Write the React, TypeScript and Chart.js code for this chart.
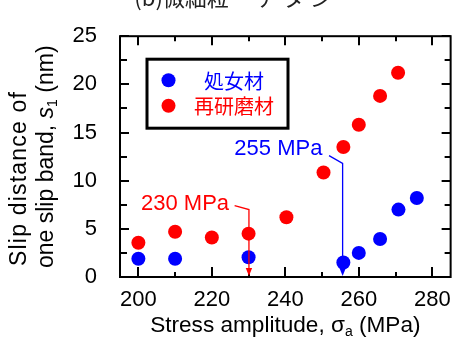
import { useEffect, useRef } from "react";
import { Chart, registerables } from "chart.js";

Chart.register(...registerables);

// ---- data ----
const seriesLabels = ["処女材", "再研磨材"];
const virginX = [200, 210, 230, 255.8, 260, 265.8, 270.8, 275.8];
const virginY = [1.9, 1.9, 2.05, 1.5, 2.5, 3.95, 7.0, 8.2];
const repolishX = [200, 210, 220, 230, 240.3, 250.4, 255.8, 260, 265.8, 270.7];
const repolishY = [3.55, 4.7, 4.1, 4.5, 6.2, 10.85, 13.5, 15.8, 18.8, 21.2];
const seriesColors = ["#0000ff", "#ff0000"];

const xTicks = [200, 220, 240, 260, 280];
const xMinorTicks = [210, 230, 250, 270];
const yTicks = [0, 5, 10, 15, 20, 25];
const yMinorTicks = [2.5, 7.5, 12.5, 17.5, 22.5];
const xRange = [195, 285];
const yRange = [0, 25];

const topTitle = "(b)微細粒ー チ タ ン";
const xTitleParts = ["Stress amplitude, ", "σ", "a", " (MPa)"];
const yTitleLine1 = "Slip distance of";
const yTitleLine2 = ["one slip band, ", "s", "1", " (nm)"];

const annotations = [
  { label: "230 MPa", color: "#ff0000", arrowX: 230.1, textX: 224.7, textY: 7.6, startX: 226.2, startY: 7.4, elbowY: 7.0 },
  { label: "255 MPa", color: "#0000ff", arrowX: 255.6, textX: 250.1, textY: 13.3, startX: 251.9, startY: 12.6, elbowY: 11.8 },
];

const FONT = "'Liberation Sans', Arial, Helvetica, sans-serif";
const CJK = "'Noto Sans CJK JP', 'Noto Sans CJK SC', sans-serif";

const decorPlugin = {
  id: "decor",
  afterDraw(chart: any) {
    const { ctx, chartArea } = chart;
    const { left, right, top, bottom } = chartArea;
    const xs = chart.scales.x;
    const ys = chart.scales.y;
    ctx.save();

    // frame
    ctx.strokeStyle = "#000";
    ctx.lineWidth = 2;
    ctx.strokeRect(left, top, right - left, bottom - top);

    // ticks (inward on all sides)
    ctx.lineWidth = 2;
    const tick = (x1: number, y1: number, x2: number, y2: number) => {
      ctx.beginPath();
      ctx.moveTo(x1, y1);
      ctx.lineTo(x2, y2);
      ctx.stroke();
    };
    xTicks.forEach((v) => {
      const p = Math.round(xs.getPixelForValue(v));
      tick(p, bottom, p, bottom - 10);
      tick(p, top, p, top + 9);
    });
    xMinorTicks.forEach((v) => {
      const p = Math.round(xs.getPixelForValue(v));
      tick(p, bottom, p, bottom - 5);
      tick(p, top, p, top + 5);
    });
    yTicks.forEach((v) => {
      const p = Math.round(ys.getPixelForValue(v));
      tick(left, p, left + 9, p);
      tick(right, p, right - 9, p);
    });
    yMinorTicks.forEach((v) => {
      const p = Math.round(ys.getPixelForValue(v));
      tick(left, p, left + 7, p);
      tick(right, p, right - 6, p);
    });

    // annotations with arrows
    annotations.forEach((a) => {
      ctx.fillStyle = a.color;
      ctx.strokeStyle = a.color;
      ctx.font = `22px ${FONT}`;
      ctx.textAlign = "right";
      ctx.textBaseline = "middle";
      ctx.fillText(a.label, xs.getPixelForValue(a.textX), ys.getPixelForValue(a.textY));
      const ax = xs.getPixelForValue(a.arrowX);
      const ey = ys.getPixelForValue(a.elbowY);
      ctx.lineWidth = 1.3;
      ctx.beginPath();
      ctx.moveTo(xs.getPixelForValue(a.startX), ys.getPixelForValue(a.startY));
      ctx.lineTo(ax, ey);
      ctx.lineTo(ax, bottom - 6);
      ctx.stroke();
      ctx.beginPath();
      ctx.moveTo(ax, bottom - 1);
      ctx.lineTo(ax - 3.2, bottom - 9);
      ctx.lineTo(ax + 3.2, bottom - 9);
      ctx.closePath();
      ctx.fill();
    });

    // legend box
    const bx = left + 27;
    const by = top + 23;
    const bw = 141;
    const bh = 69;
    ctx.fillStyle = "#fff";
    ctx.fillRect(bx, by, bw, bh);
    ctx.strokeStyle = "#000";
    ctx.lineWidth = 3;
    ctx.strokeRect(bx, by, bw, bh);
    seriesLabels.forEach((lab, i) => {
      const cy = by + 21 + i * 25.6;
      ctx.fillStyle = seriesColors[i];
      ctx.beginPath();
      ctx.arc(bx + 21.5, cy, 7, 0, Math.PI * 2);
      ctx.fill();
      ctx.font = `20px ${CJK}`;
      ctx.textAlign = "center";
      ctx.textBaseline = "middle";
      ctx.fillText(lab, bx + 87, cy + 1);
    });

    // x title with subscript
    ctx.fillStyle = "#000";
    ctx.textAlign = "left";
    ctx.textBaseline = "alphabetic";
    const mainF = `22.6px ${FONT}`;
    const subF = `14px ${FONT}`;
    ctx.font = mainF;
    const w0 = ctx.measureText(xTitleParts[0]).width;
    const w1 = ctx.measureText(xTitleParts[1]).width;
    const w3 = ctx.measureText(xTitleParts[3]).width;
    ctx.font = subF;
    const w2 = ctx.measureText(xTitleParts[2]).width;
    const total = w0 + w1 + w2 + w3;
    let cx = (left + right) / 2 - total / 2;
    const base = 332;
    ctx.font = mainF;
    ctx.fillText(xTitleParts[0], cx, base); cx += w0;
    ctx.fillText(xTitleParts[1], cx, base); cx += w1;
    ctx.font = subF;
    ctx.fillText(xTitleParts[2], cx, base + 4); cx += w2;
    ctx.font = mainF;
    ctx.fillText(xTitleParts[3], cx, base);

    // y title (rotated, two lines, start-aligned)
    const yStart = 266;
    ctx.save();
    ctx.translate(20, yStart);
    ctx.rotate(-Math.PI / 2);
    ctx.font = `23px ${FONT}`;
    try { (ctx as any).letterSpacing = "1.2px"; } catch (e) {}
    ctx.textBaseline = "middle";
    ctx.textAlign = "left";
    ctx.fillText(yTitleLine1, 0, 0);
    try { (ctx as any).letterSpacing = "0px"; } catch (e) {}
    ctx.restore();

    ctx.save();
    ctx.translate(47, yStart + 2);
    ctx.rotate(-Math.PI / 2);
    ctx.textBaseline = "middle";
    ctx.textAlign = "left";
    let lx = 0;
    ctx.font = `23px ${FONT}`;
    ctx.fillText(yTitleLine2[0], lx, 0); lx += ctx.measureText(yTitleLine2[0]).width;
    ctx.font = `italic 23px ${FONT}`;
    ctx.fillText(yTitleLine2[1], lx, 0); lx += ctx.measureText(yTitleLine2[1]).width;
    ctx.font = `14px ${FONT}`;
    ctx.fillText(yTitleLine2[2], lx, 6); lx += ctx.measureText(yTitleLine2[2]).width;
    ctx.font = `23px ${FONT}`;
    ctx.fillText(yTitleLine2[3], lx, 0);
    ctx.restore();

    // partially visible top title
    ctx.fillStyle = "#222";
    ctx.font = `22px ${CJK}`;
    ctx.textAlign = "center";
    ctx.textBaseline = "alphabetic";
    ctx.fillText(topTitle, 233, 6);

    ctx.restore();
  },
};

export default function App() {
  const ref = useRef<HTMLCanvasElement | null>(null);
  useEffect(() => {
    document.body.style.margin = "0";
    const canvas = ref.current;
    if (!canvas) return;
    const chart = new Chart(canvas, {
      type: "scatter",
      data: {
        datasets: [
          {
            label: seriesLabels[0],
            data: virginX.map((x, i) => ({ x, y: virginY[i] })),
            backgroundColor: seriesColors[0],
            borderWidth: 0,
            pointRadius: 7,
          },
          {
            label: seriesLabels[1],
            data: repolishX.map((x, i) => ({ x, y: repolishY[i] })),
            backgroundColor: seriesColors[1],
            borderWidth: 0,
            pointRadius: 7,
          },
        ],
      },
      options: {
        responsive: false,
        devicePixelRatio: 1,
        animation: false,
        layout: { padding: { left: 0, right: 2, top: 19, bottom: 0 } },
        plugins: { legend: { display: false }, tooltip: { enabled: false }, title: { display: false } },
        scales: {
          x: {
            type: "linear",
            min: xRange[0],
            max: xRange[1],
            grid: { display: false, drawTicks: false },
            border: { display: false },
            afterBuildTicks: (scale: any) => {
              scale.ticks = xTicks.map((value) => ({ value }));
            },
            afterFit: (scale: any) => {
              scale.height = 60;
            },
            ticks: {
              padding: 10,
              color: "#000",
              font: { family: FONT, size: 22 },
              maxRotation: 0,
              autoSkip: false,
            },
          },
          y: {
            type: "linear",
            min: yRange[0],
            max: yRange[1],
            grid: { display: false, drawTicks: false },
            border: { display: false },
            afterBuildTicks: (scale: any) => {
              scale.ticks = yTicks.map((value) => ({ value }));
            },
            afterFit: (scale: any) => {
              scale.width = 120;
            },
            ticks: {
              padding: 23,
              color: "#000",
              font: { family: FONT, size: 22 },
              autoSkip: false,
            },
          },
        },
      },
      plugins: [decorPlugin],
    } as any);
    return () => chart.destroy();
  }, []);
  return (
    <div style={{ position: "absolute", left: 0, top: 0, width: 461, height: 337, background: "#fff" }}>
      <canvas ref={ref} width={461} height={337} style={{ display: "block" }} />
    </div>
  );
}
